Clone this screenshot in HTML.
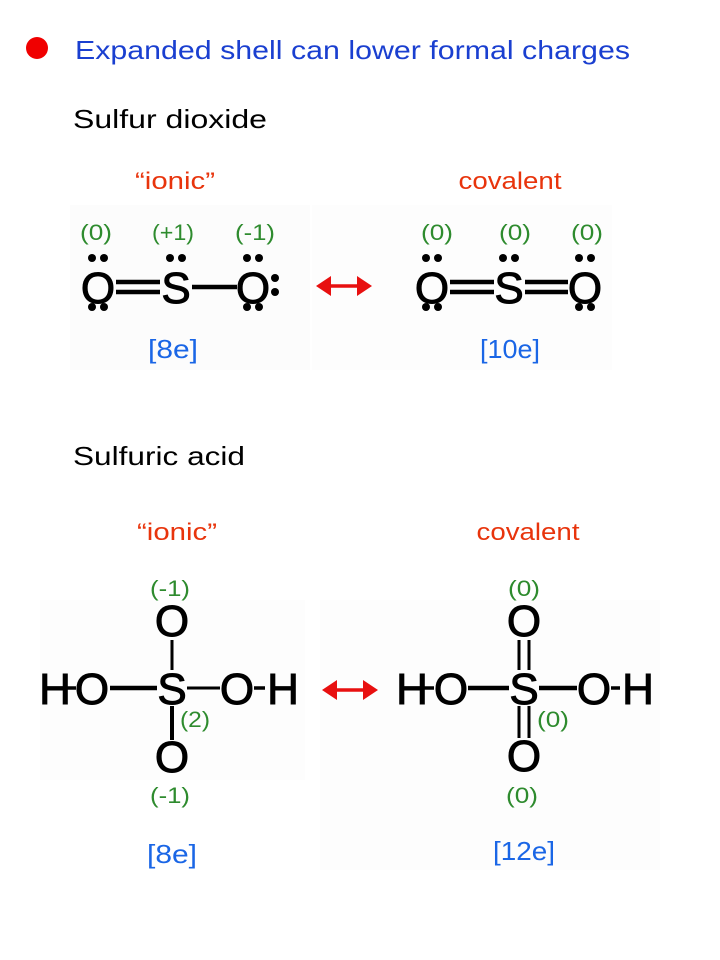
<!DOCTYPE html>
<html><head><meta charset="utf-8"><style>
html,body{margin:0;padding:0;background:#fff;}
svg{display:block;}
.t{font-family:"Liberation Sans",sans-serif;}
.a{font-family:"Liberation Sans",sans-serif;font-size:44px;fill:#000;stroke:#000;stroke-width:1;text-anchor:middle;}
.c{font-family:"Liberation Sans",sans-serif;font-size:22px;fill:#2e8b2e;text-anchor:middle;}
.e{font-family:"Liberation Sans",sans-serif;font-size:26px;fill:#1a66e6;text-anchor:middle;}
.r{font-family:"Liberation Sans",sans-serif;font-size:24px;fill:#e8340c;text-anchor:middle;}
</style></head><body>
<svg width="720" height="960" viewBox="0 0 720 960" xmlns="http://www.w3.org/2000/svg">
<rect width="720" height="960" fill="#fff"/>
<rect x="70" y="205" width="240" height="165" fill="#fcfcfc"/>
<rect x="312" y="205" width="300" height="165" fill="#fdfdfd"/>
<rect x="40" y="600" width="265" height="180" fill="#fdfdfd"/>
<rect x="320" y="600" width="340" height="270" fill="#fdfdfd"/>
<circle cx="37" cy="48" r="11" fill="#f00000"/>
<text class="t" x="75" y="59" font-size="26" fill="#1a3fd0" textLength="555" lengthAdjust="spacingAndGlyphs">Expanded shell can lower formal charges</text>
<text class="t" x="73" y="128" font-size="26" fill="#000" textLength="194" lengthAdjust="spacingAndGlyphs">Sulfur dioxide</text>
<text class="r" x="175" y="189" textLength="80" lengthAdjust="spacingAndGlyphs">“ionic”</text>
<text class="r" x="510" y="189" textLength="103" lengthAdjust="spacingAndGlyphs">covalent</text>
<!-- SO2 left -->
<text class="c" x="96" y="240" textLength="32" lengthAdjust="spacingAndGlyphs">(0)</text>
<text class="c" x="173" y="240" textLength="42" lengthAdjust="spacingAndGlyphs">(+1)</text>
<text class="c" x="255" y="240" textLength="40" lengthAdjust="spacingAndGlyphs">(-1)</text>
<text class="a" x="98" y="303">O</text>
<text class="a" x="176" y="303">S</text>
<text class="a" x="253" y="303">O</text>
<g stroke="#000" stroke-width="4.5"><line x1="116" y1="282" x2="160" y2="282"/><line x1="116" y1="292" x2="160" y2="292"/><line x1="192" y1="287" x2="237" y2="287"/></g>
<g fill="#000">
<circle cx="92" cy="258" r="4"/><circle cx="104" cy="258" r="4"/><circle cx="92" cy="307" r="4"/><circle cx="104" cy="307" r="4"/>
<circle cx="170" cy="258" r="4"/><circle cx="182" cy="258" r="4"/>
<circle cx="247" cy="258" r="4"/><circle cx="259" cy="258" r="4"/><circle cx="247" cy="307" r="4"/><circle cx="259" cy="307" r="4"/>
<circle cx="275" cy="278" r="4"/><circle cx="275" cy="292" r="4"/>
</g>
<line x1="326" y1="286" x2="362" y2="286" stroke="#e81010" stroke-width="3.5"/>
<polygon points="316,286 331,276 331,296" fill="#e81010"/><polygon points="372,286 357,276 357,296" fill="#e81010"/>
<!-- SO2 right -->
<text class="c" x="437" y="240" textLength="32" lengthAdjust="spacingAndGlyphs">(0)</text>
<text class="c" x="515" y="240" textLength="32" lengthAdjust="spacingAndGlyphs">(0)</text>
<text class="c" x="587" y="240" textLength="32" lengthAdjust="spacingAndGlyphs">(0)</text>
<text class="a" x="432" y="303">O</text>
<text class="a" x="509" y="303">S</text>
<text class="a" x="585" y="303">O</text>
<g stroke="#000" stroke-width="4.5"><line x1="450" y1="282" x2="494" y2="282"/><line x1="450" y1="292" x2="494" y2="292"/><line x1="525" y1="282" x2="568" y2="282"/><line x1="525" y1="292" x2="568" y2="292"/></g>
<g fill="#000">
<circle cx="426" cy="258" r="4"/><circle cx="438" cy="258" r="4"/><circle cx="426" cy="307" r="4"/><circle cx="438" cy="307" r="4"/>
<circle cx="503" cy="258" r="4"/><circle cx="515" cy="258" r="4"/>
<circle cx="579" cy="258" r="4"/><circle cx="591" cy="258" r="4"/><circle cx="579" cy="307" r="4"/><circle cx="591" cy="307" r="4"/>
</g>
<text class="e" x="173" y="358" textLength="50" lengthAdjust="spacingAndGlyphs">[8e]</text>
<text class="e" x="510" y="358" textLength="60" lengthAdjust="spacingAndGlyphs">[10e]</text>
<text class="t" x="73" y="465" font-size="26" fill="#000" textLength="172" lengthAdjust="spacingAndGlyphs">Sulfuric acid</text>
<text class="r" x="177" y="540" textLength="80" lengthAdjust="spacingAndGlyphs">“ionic”</text>
<text class="r" x="528" y="540" textLength="103" lengthAdjust="spacingAndGlyphs">covalent</text>
<!-- H2SO4 left -->
<text class="c" x="170" y="596" textLength="40" lengthAdjust="spacingAndGlyphs">(-1)</text>
<text class="a" x="172" y="636">O</text>
<line x1="172" y1="640" x2="172" y2="670" stroke="#000" stroke-width="3"/>
<text class="a" x="55" y="704">H</text>
<line x1="67" y1="688" x2="76" y2="688" stroke="#000" stroke-width="3.5"/>
<text class="a" x="92" y="704">O</text>
<line x1="110" y1="688" x2="157" y2="688" stroke="#000" stroke-width="4.5"/>
<text class="a" x="172" y="704">S</text>
<line x1="187" y1="688" x2="220" y2="688" stroke="#000" stroke-width="3"/>
<text class="a" x="237" y="704">O</text>
<line x1="254" y1="688" x2="265" y2="688" stroke="#000" stroke-width="3.5"/>
<text class="a" x="283" y="704">H</text>
<line x1="172" y1="706" x2="172" y2="740" stroke="#000" stroke-width="4"/>
<text class="a" x="172" y="772">O</text>
<text class="c" x="195" y="727" textLength="30" lengthAdjust="spacingAndGlyphs">(2)</text>
<text class="c" x="170" y="803" textLength="40" lengthAdjust="spacingAndGlyphs">(-1)</text>
<line x1="332" y1="690" x2="368" y2="690" stroke="#e81010" stroke-width="3.5"/>
<polygon points="322,690 337,680 337,700" fill="#e81010"/><polygon points="378,690 363,680 363,700" fill="#e81010"/>
<!-- H2SO4 right -->
<text class="c" x="524" y="596" textLength="32" lengthAdjust="spacingAndGlyphs">(0)</text>
<text class="a" x="524" y="636">O</text>
<line x1="519" y1="640" x2="519" y2="670" stroke="#000" stroke-width="3"/><line x1="529" y1="640" x2="529" y2="670" stroke="#000" stroke-width="3"/>
<text class="a" x="412" y="704">H</text>
<line x1="424" y1="688" x2="434" y2="688" stroke="#000" stroke-width="3.5"/>
<text class="a" x="451" y="704">O</text>
<line x1="468" y1="688" x2="509" y2="688" stroke="#000" stroke-width="4.5"/>
<text class="a" x="524" y="704">S</text>
<line x1="539" y1="688" x2="577" y2="688" stroke="#000" stroke-width="4.5"/>
<text class="a" x="594" y="704">O</text>
<line x1="611" y1="688" x2="620" y2="688" stroke="#000" stroke-width="3.5"/>
<text class="a" x="638" y="704">H</text>
<line x1="519" y1="706" x2="519" y2="738" stroke="#000" stroke-width="3"/><line x1="529" y1="706" x2="529" y2="738" stroke="#000" stroke-width="3"/>
<text class="a" x="524" y="771">O</text>
<text class="c" x="553" y="727" textLength="32" lengthAdjust="spacingAndGlyphs">(0)</text>
<text class="c" x="522" y="803" textLength="32" lengthAdjust="spacingAndGlyphs">(0)</text>
<text class="e" x="172" y="863" textLength="50" lengthAdjust="spacingAndGlyphs">[8e]</text>
<text class="e" x="524" y="860" textLength="62" lengthAdjust="spacingAndGlyphs">[12e]</text>
</svg>
</body></html>
